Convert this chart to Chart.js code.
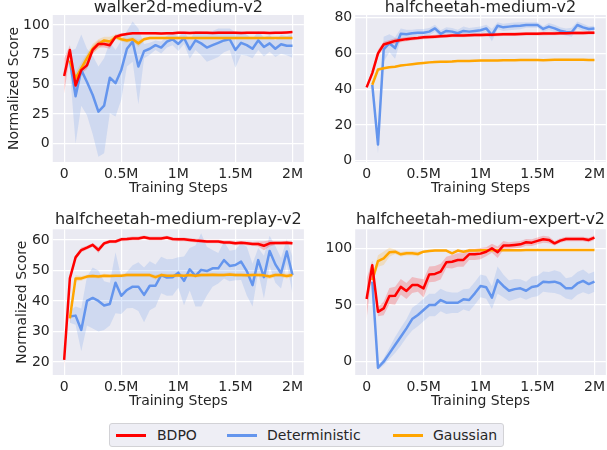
<!DOCTYPE html>
<html>
<head>
<meta charset="utf-8">
<script src="https://cdn.jsdelivr.net/npm/chart.js@4.4.1/dist/chart.umd.min.js"></script>
<style>
  body { margin: 0; width: 607px; height: 450px; overflow: hidden; background: #fff; font-family: "DejaVu Sans", sans-serif; }
  canvas { position: absolute; }
  #legend { position: absolute; left: 109px; top: 423px; width: 395px; height: 24px; background: rgba(234,234,242,0.8);
            border: 1px solid #d2d2d6; border-radius: 3px; box-sizing: border-box; color: #262626; font-size: 14px; }
  #legend .ln { position: absolute; top: 10px; width: 30px; height: 2.5px; }
  #legend .tx { position: absolute; top: 3px; line-height: 16px; }
</style>
</head>
<body>
<canvas id="c1" width="307" height="197" style="left:0px;top:0px"></canvas>
<canvas id="c2" width="304" height="197" style="left:305px;top:0px"></canvas>
<canvas id="c3" width="307" height="199" style="left:0px;top:211px"></canvas>
<canvas id="c4" width="304" height="199" style="left:305px;top:211px"></canvas>
<div id="legend">
  <span class="ln" style="left:6px;background:#ff0000"></span><span class="tx" style="left:47px">BDPO</span>
  <span class="ln" style="left:117px;background:#6495ed"></span><span class="tx" style="left:157px">Deterministic</span>
  <span class="ln" style="left:283px;background:#ffa500"></span><span class="tx" style="left:323px">Gaussian</span>
</div>
<script>
// training steps in millions
const steps = [0, 0.05, 0.1, 0.15, 0.2, 0.25, 0.3, 0.35, 0.4, 0.45, 0.5, 0.55, 0.6, 0.65, 0.7, 0.75, 0.8, 0.85, 0.9, 0.95,
  1, 1.05, 1.1, 1.15, 1.2, 1.25, 1.3, 1.35, 1.4, 1.45, 1.5, 1.55, 1.6, 1.65, 1.7, 1.75, 1.8, 1.85, 1.9, 1.95, 2]
const xTickVals = [0, 0.5, 1, 1.5, 2]
const xTickLabels = ['0', '0.5M', '1M', '1.5M', '2M']

// walker2d-medium-v2
const walkerBDPO = [57, 79, 49, 62, 66, 79, 84, 84, 83, 90, 91.5, 92.4, 93, 93, 93, 93, 93, 92.8, 93, 93,
  93.5, 93.5, 93.3, 93.5, 93.5, 93.5, 93.3, 93.5, 93.5, 93.5, 93.5, 93.3, 93.5, 93.5, 93.5, 93.5, 93.3, 93.5, 93.5, 93.7, 94]
const walkerBDPOSd = [15, 4, 8, 3, 3, 3, 3, 3, 3, 2, 1.5, 1, 1, 1, 1, 1, 1, 1, 1, 1,
  1, 1, 1, 1, 1, 1, 1, 1, 1, 1, 1, 1, 1, 1, 1, 1, 1, 1, 1, 1, 1]
const walkerDet = [null, 70, 40, 62, 52, 41, 27, 32, 55.6, 51, 62, 80, 86, 65, 78, 80, 83, 81, 86, 88,
  84, 89, 79.5, 87, 84.5, 81, 83, 85, 87, 88, 79, 85, 83, 80, 87, 81.5, 84.5, 80, 83.7, 82.5, 82.5]
const walkerDetSd = [null, 8, 40, 30, 28, 33, 38, 40, 30, 28, 25, 15, 17, 32, 6, 5, 4, 5, 5, 5,
  6, 5, 8, 8, 10, 12, 12, 12, 10, 9, 15, 10, 9, 8, 8, 8, 7, 7, 8, 8, 10]
const walkerGauss = [null, 70, 55, 63.5, 72, 80, 84, 87, 86, 90, 88, 87, 88, 84.5, 88, 89, 89, 89, 89, 89,
  89, 89, 89, 89, 89, 89, 89, 89, 89, 89, 89, 89, 89, 89, 89, 89, 89, 89, 89, 89, 89]
const walkerGaussSd = [null, 4, 5, 5, 4, 4, 4, 3, 4, 2, 2, 2, 2, 3, 1.5, 1, 1, 1, 1, 1,
  1, 1, 1, 1, 1, 1, 1, 1, 1, 1, 1, 1, 1, 1, 1, 1, 1, 1, 1, 1, 1]

// halfcheetah-medium-v2
const hcmBDPO = [41, 49, 60, 65, 66, 67, 67.5, 68, 68.3, 68.6, 69, 69.2, 69.4, 69.6, 69.8, 70, 70, 70.1, 70.2, 70.3,
  70.3, 70.4, 70.5, 70.6, 70.7, 70.8, 70.8, 70.9, 71, 71, 71, 71.1, 71.2, 71.2, 71.3, 71.3, 71.4, 71.5, 71.5, 71.6, 71.6]
const hcmBDPOSd = [1, 1.5, 2, 1.5, 1.5, 1.5, 1.2, 1.2, 1, 1, 1, 1, 1, 1, 1, 1, 1, 1, 1, 1,
  1, 1, 1, 1, 1, 1, 1, 1, 1, 1, 1, 1, 1, 1, 1, 1, 1, 1, 1, 1, 1]
const hcmDet = [null, 42.4, 9, 62.3, 65.7, 63, 71, 70.7, 71.3, 71.6, 71.6, 72.2, 74, 71, 72.6, 72.2, 71.3, 72.6, 72.2, 72.6,
  73, 74, 70.3, 75.5, 74.6, 75, 75.3, 75.5, 75.9, 75.9, 75.9, 73.7, 75, 74, 72.7, 72, 71.8, 75.9, 74.6, 73.7, 74]
const hcmDetSd = [null, 1, 5, 7, 5, 6, 3, 2.5, 2, 2, 2, 2, 2, 2, 2, 2, 2, 2.5, 2, 2,
  2, 2, 3.5, 2, 2, 2, 2, 2, 1.5, 1.5, 1.5, 1.5, 2, 2, 2, 2, 2.5, 2, 2, 1.5, 1.5]
const hcmGauss = [null, 42.5, 51, 51.7, 52.3, 52.6, 53.2, 53.6, 54, 54.4, 54.7, 55, 55.2, 55.3, 55.4, 55.5, 55.7, 55.7, 55.8, 55.9,
  56, 56, 56.1, 56.1, 56.2, 56.2, 56.2, 56.3, 56.3, 56.3, 56.3, 56.2, 56.3, 56.4, 56.5, 56.5, 56.4, 56.4, 56.4, 56.3, 56.3]
const hcmGaussSd = [null, 0.8, 0.8, 0.6, 0.5, 0.5, 0.5, 0.5, 0.5, 0.5, 0.5, 0.5, 0.5, 0.5, 0.5, 0.5, 0.5, 0.5, 0.5, 0.5,
  0.5, 0.5, 0.5, 0.5, 0.5, 0.5, 0.5, 0.5, 0.5, 0.5, 0.5, 0.5, 0.5, 0.5, 0.5, 0.5, 0.5, 0.5, 0.5, 0.5, 0.5]

// halfcheetah-medium-replay-v2
const hcrBDPO = [20.7, 47.4, 54.3, 56.7, 57.5, 58.4, 56.7, 58.9, 59.5, 59.5, 60.2, 60.3, 60.5, 60.5, 60.9, 60.5, 60.5, 60.5, 60.8, 60.3,
  60.2, 60.2, 60, 59.8, 59.7, 59.5, 59.5, 59.5, 59.2, 59.2, 58.9, 59.1, 58.9, 58.7, 58.7, 58.1, 58.9, 59, 59, 59.1, 58.9]
const hcrBDPOSd = [2.5, 1, 0.8, 0.8, 0.6, 0.6, 1, 0.6, 0.6, 0.6, 0.6, 0.6, 0.6, 0.6, 0.6, 0.6, 0.6, 0.6, 0.6, 0.6,
  0.6, 0.6, 0.6, 0.6, 0.6, 0.6, 0.6, 0.6, 0.6, 0.6, 0.6, 0.6, 0.6, 0.6, 0.8, 1.5, 1, 0.6, 0.6, 0.6, 0.6]
const hcrDet = [null, 34.9, 35.2, 30.5, 40, 41, 40, 38.5, 39, 46, 41.7, 43.6, 44.7, 44.7, 42, 45, 45, 48.5, 47.7, 47.8,
  49.3, 46.6, 50.4, 48.2, 50.2, 49.8, 50.7, 50.7, 53.4, 51.5, 51.8, 52.9, 49.8, 45.2, 53.4, 47.8, 56.4, 52, 49.1, 56.2, 48.5]
const hcrDetSd = [null, 2, 3, 7, 8, 10, 10, 8, 7, 10, 6, 6, 7, 8, 9, 8, 7, 6, 6, 6,
  5, 8, 7, 10, 12, 8, 6, 5, 6, 5, 5, 6, 8, 7, 4, 7, 5, 6, 5, 4, 6]
const hcrGauss = [null, 34.3, 47.4, 47.4, 48, 48.2, 48, 48.3, 48.2, 48.3, 48.3, 48.5, 48.5, 48.5, 48.5, 48.5, 47.8, 48.5, 48.3, 48.3,
  48.4, 48.3, 48.5, 48.3, 48.5, 48.5, 48.6, 48.5, 48.5, 48.7, 48.5, 48.5, 48.4, 48.5, 48.5, 48.4, 48, 48.5, 48.5, 48.2, 48.5]
const hcrGaussSd = [null, 2, 1, 0.8, 0.6, 0.6, 0.6, 0.6, 0.6, 0.6, 0.6, 0.6, 0.6, 0.6, 0.6, 0.6, 0.8, 0.6, 0.6, 0.6,
  0.6, 0.6, 0.6, 0.6, 0.6, 0.6, 0.6, 0.6, 0.6, 0.6, 0.6, 0.6, 0.6, 0.6, 0.6, 0.8, 0.8, 0.6, 0.6, 0.8, 0.6]

// halfcheetah-medium-expert-v2
const hceBDPO = [55.3, 85, 44, 47, 58, 58.2, 66, 62.4, 67.6, 67.6, 64.7, 77, 77.4, 79.4, 87.6, 88.2, 89.7, 89.7, 94.7, 94.7,
  95.3, 97, 100, 96.5, 102.4, 102.4, 103, 103.5, 105.3, 105, 106.5, 108, 107.4, 104.4, 106.8, 108.2, 108.2, 108.2, 108.2, 107.4, 109.4]
const hceBDPOSd = [18, 4, 4, 6, 7, 8, 7, 7, 7, 6, 8, 7, 7, 7, 5, 6, 6, 6, 5, 5,
  5, 4, 4, 5, 4, 3, 3, 3, 3, 3, 3, 3, 3, 2, 2, 2, 2, 2, 2, 2, 2]
const hceDet = [null, 70.6, -5.3, 0, 7.4, 14.7, 22, 29.4, 37.6, 41.2, 45.6, 50, 50, 54.4, 52, 52, 52, 55, 54.4, 60.3,
  66.8, 65.6, 56.5, 72, 66.8, 62.6, 64, 64.7, 62.6, 65.9, 66.8, 70.6, 70, 70.6, 69, 64.7, 64.7, 69, 71.2, 68.5, 70.6]
const hceDetSd = [null, 2, 2, 3, 5, 7, 8, 8, 10, 10, 10, 10, 10, 10, 10, 9, 9, 9, 10, 10,
  10, 10, 10, 12, 10, 9, 9, 8, 8, 9, 9, 9, 9, 10, 10, 9, 10, 10, 10, 9, 9]
const hceGauss = [null, 72, 88.8, 91.2, 96.5, 97, 94.7, 95.6, 95.6, 95, 97, 97.6, 98, 98, 98, 95.6, 98, 97, 98, 98,
  98.2, 98.2, 98.2, 98.2, 98.3, 98.3, 98.3, 98.3, 98.4, 98.4, 98.4, 98.4, 98.4, 98.4, 98.4, 98.4, 98.4, 98.4, 98.4, 98.4, 98.4]
const hceGaussSd = [null, 3, 5, 6, 4, 2, 2, 2, 2, 2, 1, 0.8, 0.8, 0.8, 0.8, 0.8, 0.8, 0.8, 0.8, 0.8,
  0.8, 0.8, 0.8, 0.8, 0.8, 0.8, 0.8, 0.8, 0.8, 0.8, 0.8, 0.8, 0.8, 0.8, 0.8, 0.8, 0.8, 0.8, 0.8, 0.8, 0.8]

const RED = '#ff0000', BLUE = '#6495ed', ORANGE = '#ffa500'

Chart.defaults.font.family = '"DejaVu Sans", sans-serif'
Chart.defaults.font.size = 14
Chart.defaults.color = '#262626'

const bgPlugin = {
  id: 'bg',
  beforeDraw(chart) {
    const { ctx, chartArea: a } = chart
    ctx.save()
    ctx.fillStyle = '#eaeaf2'
    ctx.fillRect(a.left, a.top, a.right - a.left, a.bottom - a.top)
    ctx.restore()
  }
}

function pts(arr) {
  return steps.map((s, i) => ({ x: s, y: arr[i] }))
}

function hexA(hex, a) {
  const n = parseInt(hex.slice(1), 16)
  return 'rgba(' + (n >> 16) + ',' + ((n >> 8) & 255) + ',' + (n & 255) + ',' + a + ')'
}

// lower + upper band datasets, then the mean line
function series(mean, sd, color, lineOrder) {
  const lo = mean.map((m, i) => m === null ? null : m - sd[i])
  const hi = mean.map((m, i) => m === null ? null : m + sd[i])
  return {
    bands: [
      { data: pts(lo), borderWidth: 0, pointRadius: 0, fill: false, order: 10 },
      { data: pts(hi), borderWidth: 0, pointRadius: 0, fill: '-1', backgroundColor: hexA(color, 0.2), order: 10 }
    ],
    line: { data: pts(mean), borderColor: color, borderWidth: 2.5, pointRadius: 0, fill: false,
      borderJoinStyle: 'round', order: lineOrder }
  }
}

function panel(p) {
  const r = series(p.bdpo, p.bdpoSd, RED, 1)
  const d = series(p.det, p.detSd, BLUE, 3)
  const g = series(p.gauss, p.gaussSd, ORANGE, 2)
  const c = p.canvas, a = p.area
  const titleLh = 2 * (a.t - p.titleY)
  const yW = a.l - c.x
  const xH = c.y + c.h - a.b

  new Chart(document.getElementById(p.id), {
    type: 'line',
    data: {
      datasets: [...r.bands, ...d.bands, ...g.bands, r.line, d.line, g.line]
    },
    options: {
      responsive: false,
      animation: false,
      layout: { autoPadding: false, padding: { top: a.t - c.y - titleLh, left: 0, right: c.x + c.w - a.r, bottom: 0 } },
      plugins: {
        legend: { display: false },
        tooltip: { enabled: false },
        title: { display: true, text: p.title, fullSize: false, padding: 0,
          font: { size: 16, weight: 'normal', lineHeight: titleLh / 16 } }
      },
      scales: {
        x: {
          type: 'linear', min: -0.1, max: 2.1,
          afterBuildTicks: s => { s.ticks = xTickVals.map(v => ({ value: v })) },
          afterFit: s => { s.height = xH },
          ticks: { padding: 3.9, maxRotation: 0, callback: v => xTickLabels[xTickVals.indexOf(v)] },
          grid: { color: '#ffffff', lineWidth: 1.2, drawTicks: false },
          border: { display: false },
          title: { display: true, text: 'Training Steps', padding: { top: 0, bottom: c.y + c.h - p.xTitleY - 8.4 } }
        },
        y: {
          min: p.yMin, max: p.yMax,
          afterBuildTicks: s => { s.ticks = p.yTicks.map(v => ({ value: v })) },
          afterFit: s => { s.width = yW },
          ticks: { padding: 3 },
          grid: { color: '#ffffff', lineWidth: 1.2, drawTicks: false },
          border: { display: false },
          title: { display: !!p.yTitleX, text: 'Normalized Score',
            padding: { top: p.yTitleX ? p.yTitleX - c.x - 8.4 : 0, bottom: 0 } }
        }
      }
    },
    plugins: [bgPlugin]
  })
}

panel({
  id: 'c1', title: 'walker2d-medium-v2',
  bdpo: walkerBDPO, bdpoSd: walkerBDPOSd, det: walkerDet, detSd: walkerDetSd, gauss: walkerGauss, gaussSd: walkerGaussSd,
  yTicks: [0, 25, 50, 75, 100], yMin: -15.4, yMax: 108.4,
  canvas: { x: 0, y: 0, w: 307, h: 197 }, area: { l: 52.75, t: 15, r: 306.9, b: 162 },
  titleY: 7.5, xTitleY: 188.3, yTitleX: 14.5
})
panel({
  id: 'c2', title: 'halfcheetah-medium-v2',
  bdpo: hcmBDPO, bdpoSd: hcmBDPOSd, det: hcmDet, detSd: hcmDetSd, gauss: hcmGauss, gaussSd: hcmGaussSd,
  yTicks: [0, 20, 40, 60, 80], yMin: -0.73, yMax: 81.5,
  canvas: { x: 305, y: 0, w: 304, h: 197 }, area: { l: 355.2, t: 15, r: 608.9, b: 162 },
  titleY: 7.5, xTitleY: 188.3, yTitleX: 0
})
panel({
  id: 'c3', title: 'halfcheetah-medium-replay-v2',
  bdpo: hcrBDPO, bdpoSd: hcrBDPOSd, det: hcrDet, detSd: hcrDetSd, gauss: hcrGauss, gaussSd: hcrGaussSd,
  yTicks: [20, 30, 40, 50, 60], yMin: 15.73, yMax: 63.5,
  canvas: { x: 0, y: 211, w: 307, h: 199 }, area: { l: 52.75, t: 229.3, r: 306.9, b: 375 },
  titleY: 220.2, xTitleY: 401.3, yTitleX: 22.5
})
panel({
  id: 'c4', title: 'halfcheetah-medium-expert-v2',
  bdpo: hceBDPO, bdpoSd: hceBDPOSd, det: hceDet, detSd: hceDetSd, gauss: hceGauss, gaussSd: hceGaussSd,
  yTicks: [0, 50, 100], yMin: -11.7, yMax: 116.75,
  canvas: { x: 305, y: 211, w: 304, h: 199 }, area: { l: 355.2, t: 229.3, r: 608.9, b: 375 },
  titleY: 220.2, xTitleY: 401.3, yTitleX: 0
})
</script>
</body>
</html>
